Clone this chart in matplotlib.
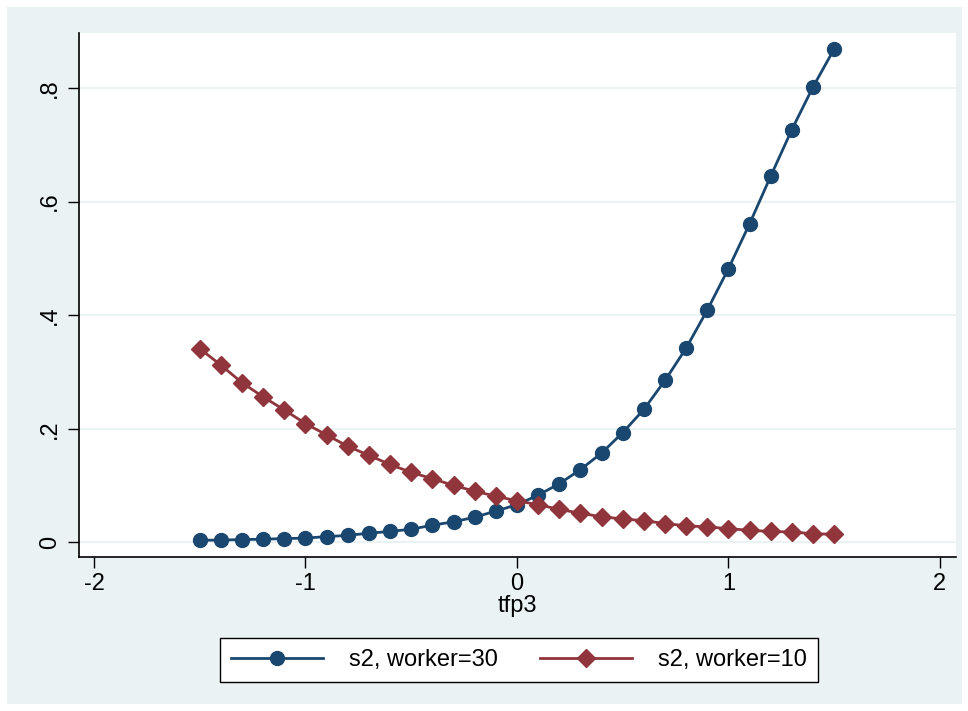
import matplotlib.pyplot as plt
import matplotlib.patches as mpatches
from matplotlib.ticker import FuncFormatter

plt.rcParams['font.family'] = ['Liberation Sans', 'DejaVu Sans']

# tfp3 grid and the two predicted s2 series
tfp3 = [-1.5, -1.4, -1.3, -1.2, -1.1, -1.0, -0.9, -0.8, -0.7, -0.6, -0.5,
        -0.4, -0.3, -0.2, -0.1, 0.0, 0.1, 0.2, 0.3, 0.4, 0.5, 0.6, 0.7,
        0.8, 0.9, 1.0, 1.1, 1.2, 1.3, 1.4, 1.5]
s2_worker30 = [0.0035, 0.0038, 0.0047, 0.0053, 0.0065, 0.0072, 0.0100,
               0.0120, 0.0160, 0.0190, 0.0230, 0.0300, 0.0360, 0.0440,
               0.0550, 0.0660, 0.0830, 0.1030, 0.1280, 0.1570, 0.1930,
               0.2340, 0.2850, 0.3420, 0.4090, 0.4820, 0.5610, 0.6450,
               0.7270, 0.8020, 0.8690]
s2_worker10 = [0.341, 0.312, 0.281, 0.256, 0.233, 0.209, 0.189, 0.169,
               0.153, 0.137, 0.123, 0.112, 0.100, 0.090, 0.081, 0.073,
               0.066, 0.058, 0.051, 0.045, 0.041, 0.038, 0.033, 0.029,
               0.027, 0.024, 0.021, 0.019, 0.018, 0.015, 0.014]
labels = ["s2, worker=30", "s2, worker=10"]
xticks = [-2, -1, 0, 1, 2]
yticks = [0, 0.2, 0.4, 0.6, 0.8]

bg = "#EAF2F3"
navy = "#1A476F"
maroon = "#90353B"

fig = plt.figure(figsize=(9.68, 7.11), dpi=100)
fig.patch.set_facecolor("white")
# stata graph region (light bluish gray, white margin round it)
fig.patches.append(mpatches.Rectangle((7 / 968, 7 / 711), 955 / 968, 697 / 711,
                                      transform=fig.transFigure,
                                      facecolor=bg, edgecolor="none",
                                      zorder=-10))

ax = fig.add_axes([79 / 968, 154 / 711, 877 / 968, 524 / 711])
ax.set_facecolor("white")

ax.plot(tfp3, s2_worker30, color=navy, lw=2, marker="o", markersize=10,
        label=labels[0], zorder=3)
ax.plot(tfp3, s2_worker10, color=maroon, lw=2, marker="D", markersize=9,
        label=labels[1], zorder=3)

ax.set_xlim(-2.071, 2.076)
ax.set_ylim(-0.026, 0.897)
ax.set_xticks(xticks)
ax.set_yticks(yticks)
ax.xaxis.set_major_formatter(FuncFormatter(lambda v, p: "%g" % v))
ax.yaxis.set_major_formatter(
    FuncFormatter(lambda v, p: "0" if v == 0 else ("%g" % v).replace("0.", ".")))
ax.tick_params(axis="both", direction="out", length=8, width=1, colors="black",
               labelsize=17)
ax.tick_params(axis="y", pad=5, labelrotation=90)
for lab in ax.get_yticklabels():
    lab.set_va("center")
ax.grid(axis="y", color=bg, lw=1.5)
ax.set_axisbelow(True)

for s in ["top", "right"]:
    ax.spines[s].set_visible(False)
for s in ["left", "bottom"]:
    ax.spines[s].set_color("black")
    ax.spines[s].set_linewidth(1.2)

ax.set_xlabel("tfp3", fontsize=17, labelpad=0)

leg = fig.legend(loc="center", bbox_to_anchor=(519 / 968, 1 - 660 / 711),
                 ncol=2, fontsize=17, frameon=True, fancybox=False,
                 edgecolor="black", framealpha=1, facecolor="white",
                 handlelength=3.9, handletextpad=1.1, columnspacing=1.8,
                 borderpad=0.45, borderaxespad=0)
leg.get_frame().set_linewidth(1)

fig.savefig("out.png", dpi=100, facecolor=fig.get_facecolor())
